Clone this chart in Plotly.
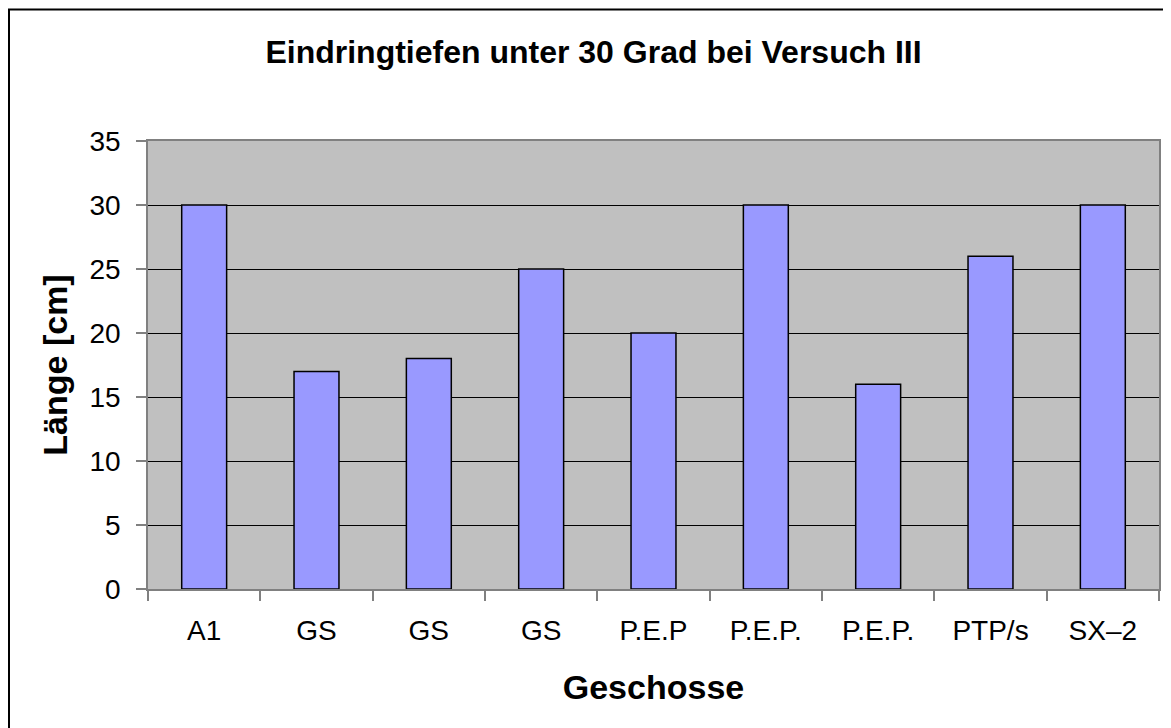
import plotly.graph_objects as go

# Geschosse und Eindringtiefen (cm)
geschosse = ["A1", "GS", "GS", "GS", "P.E.P", "P.E.P.", "P.E.P.", "PTP/s", "SX–2"]
laenge = [30, 17, 18, 25, 20, 30, 16, 26, 30]
y_ticks = [0, 5, 10, 15, 20, 25, 30, 35]

W, H = 1171, 728
ML, MR, MT, MB = 140, 20, 133, 147
pw, ph = W - ML - MR, H - MT - MB

fig = go.Figure()
fig.add_trace(go.Bar(
    x=list(range(len(geschosse))), y=laenge, width=0.4,
    marker=dict(color="#9999FF", line=dict(color="black", width=1.5)),
    showlegend=False,
))

font = "Liberation Sans, Arial, sans-serif"
fig.update_layout(
    width=W, height=H,
    margin=dict(l=ML, r=MR, t=MT, b=MB),
    paper_bgcolor="white", plot_bgcolor="#C0C0C0",
    font=dict(family=font, size=28, color="black"),
    title=dict(text="<b>Eindringtiefen unter 30 Grad bei Versuch III</b>",
               x=0.5, xanchor="center", y=1 - 44 / H, yanchor="middle",
               font=dict(size=32)),
    shapes=[dict(type="rect", xref="paper", yref="paper",
                 x0=(1 - ML) / pw, x1=(W + 20 - ML) / pw,
                 y0=-(MB + 20) / ph, y1=(H - MB - 1.5) / ph,
                 line=dict(color="black", width=2), fillcolor="rgba(0,0,0,0)",
                 layer="below")],
)
fig.update_xaxes(
    range=[-0.5, len(geschosse) - 0.5],
    tickvals=list(range(len(geschosse))), ticktext=geschosse,
    ticks="", ticklabelstandoff=16, showgrid=False, zeroline=False,
    showline=True, linecolor="#808080", linewidth=1.5, mirror=True,
    minor=dict(ticks="outside", tick0=-0.5, dtick=1, ticklen=10,
               tickcolor="#808080", tickwidth=1.5, showgrid=False),
    title=dict(text="<b>Geschosse</b>", standoff=30),
)
fig.update_yaxes(
    range=[0, 35], tickvals=y_ticks,
    ticks="outside", ticklen=10, tickcolor="#808080", tickwidth=1.5,
    ticklabelstandoff=10,
    showgrid=True, gridcolor="black", gridwidth=1, zeroline=False,
    showline=True, linecolor="#808080", linewidth=1.5, mirror=True,
    title=dict(text="<b>Länge [cm]</b>", standoff=12),
)

fig.write_html("out.html")
